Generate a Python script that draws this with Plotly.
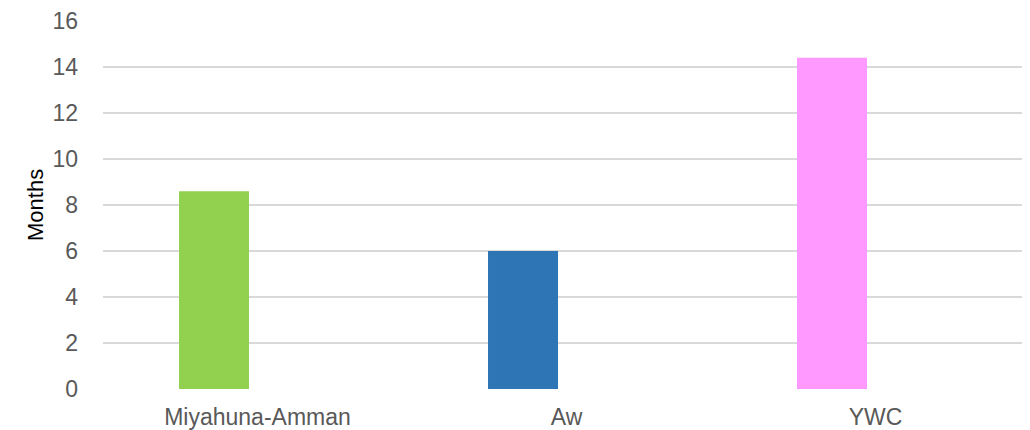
import plotly.graph_objects as go

categories = ["Miyahuna-Amman", "Aw", "YWC"]
values = [8.6, 6.0, 14.4]
colors = ["#92d050", "#2e75b6", "#ff99ff"]
y_ticks = [0, 2, 4, 6, 8, 10, 12, 14, 16]

fig = go.Figure()
fig.add_trace(go.Bar(
    x=categories, y=values,
    marker=dict(color=colors, line=dict(width=0)),
    width=0.2265, offset=-0.254,
    showlegend=False,
))

font_family = "Liberation Sans, Arial, sans-serif"
# The page body has an 8px margin, so the figure is shrunk by 8px to fit the window
fig.update_layout(
    width=1022, height=422,
    margin=dict(l=95, r=0, t=13, b=41, autoexpand=False),
    paper_bgcolor="white", plot_bgcolor="white",
    font=dict(family=font_family, size=23, color="#595959"),
    xaxis=dict(showgrid=False, showline=False, ticks="", zeroline=False,
               ticklabelstandoff=12,
               tickfont=dict(size=23, color="#595959")),
    yaxis=dict(range=[0, 16], tickvals=y_ticks, showgrid=True,
               gridcolor="#d9d9d9", gridwidth=1.5, zeroline=False,
               showline=False, ticks="", ticklabelstandoff=24,
               tickfont=dict(size=23, color="#595959")),
)
fig.add_annotation(text="Months", textangle=-90, xref="paper", yref="paper",
                   x=-(95 - 27) / 927, y=0.5, xanchor="center", yanchor="middle",
                   showarrow=False, font=dict(size=22, color="black"))
fig.write_html("out.html")
